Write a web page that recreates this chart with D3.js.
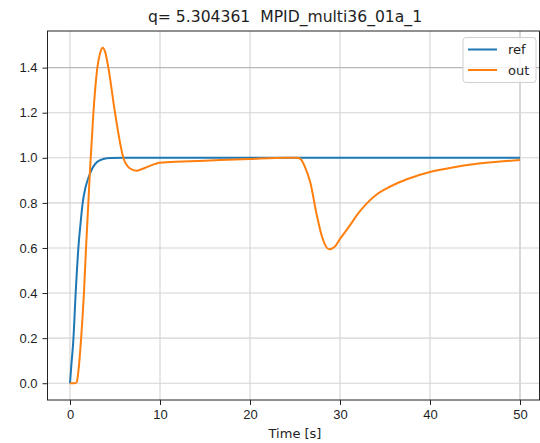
<!DOCTYPE html>
<html>
<head>
<meta charset="utf-8">
<script src="https://cdn.jsdelivr.net/npm/d3@7"></script>
<style>
  body { margin: 0; background: #fff; }
  svg { display: block; font-family: "DejaVu Sans", sans-serif; }
  .tick text { font-size: 13px; fill: #1e1e1e; }
</style>
</head>
<body>
<svg id="chart" width="540" height="443"></svg>
<script>
// ---- data ----
var titleText = "q= 5.304361  MPID_multi36_01a_1";
var xLabel = "Time [s]";
var xTicks = [0, 10, 20, 30, 40, 50];
var yTicks = [0.0, 0.2, 0.4, 0.6, 0.8, 1.0, 1.2, 1.4];
var seriesNames = ["ref", "out"];
var seriesColors = ["#1f77b4", "#ff7f0e"];

var refT = [0, 0.15, 0.37, 0.63, 0.93, 1.2, 1.41, 1.7, 2.04, 2.5, 3.0, 3.7, 4.5, 6, 10, 20, 30, 40, 50];
var refY = [0, 0.08, 0.19, 0.40, 0.60, 0.72, 0.80, 0.865, 0.91, 0.955, 0.981, 0.995, 0.999, 1.0, 1.0, 1.0, 1.0, 1.0, 1.0];

var outT = [0, 0.5, 0.75, 0.95, 1.22, 1.55, 1.78, 2.04, 2.2, 2.6, 3.04, 3.35, 3.63, 3.9, 4.26, 5.0, 5.93, 6.6, 7.4, 8.3, 10, 12.5, 15, 20, 24, 25.2, 25.6, 26.1, 26.7, 27.4, 28.0, 28.8, 29.4, 30, 31.1, 32, 32.8, 34, 35, 37.5, 40, 42.5, 45, 47.5, 50];
var outY = [0, 0, 0.005, 0.06, 0.19, 0.40, 0.60, 0.80, 0.93, 1.20, 1.40, 1.465, 1.488, 1.47, 1.40, 1.20, 1.00, 0.955, 0.943, 0.955, 0.978, 0.983, 0.987, 0.995, 1.0, 1.0, 0.995, 0.96, 0.89, 0.75, 0.65, 0.594, 0.605, 0.64, 0.70, 0.752, 0.79, 0.835, 0.86, 0.906, 0.937, 0.957, 0.972, 0.982, 0.99];

// ---- layout ----
var svg = d3.select("#chart");
var plotL = 47.5, plotR = 542.5, plotT = 31, plotB = 400;

var x = d3.scaleLinear().domain([-2.5, 52.5]).range([plotL, plotR]);
var y = d3.scaleLinear().domain([-0.0744, 1.5624]).range([plotB, plotT]);

// grid
var grid = svg.append("g");
grid.selectAll("line.vx").data(xTicks).enter().append("line")
  .attr("x1", d => x(d)).attr("x2", d => x(d))
  .attr("y1", plotT).attr("y2", plotB)
  .attr("stroke", d => d == 50 ? "#b8b8b8" : "#d4d4d4")
  .attr("stroke-width", 1.1);
grid.selectAll("line.hy").data(yTicks).enter().append("line")
  .attr("x1", plotL).attr("x2", plotR)
  .attr("y1", d => y(d)).attr("y2", d => y(d))
  .attr("stroke", d => d == 1.4 ? "#b8b8b8" : "#d4d4d4")
  .attr("stroke-width", 1.1);

// lines
var series = [
  { name: seriesNames[0], color: seriesColors[0], pts: refT.map((t, i) => [t, refY[i]]) },
  { name: seriesNames[1], color: seriesColors[1], pts: outT.map((t, i) => [t, outY[i]]) }
];
var line = d3.line().x(d => x(d[0])).y(d => y(d[1])).curve(d3.curveMonotoneX);

svg.append("g").selectAll("path").data(series).enter().append("path")
  .attr("d", d => line(d.pts))
  .attr("fill", "none")
  .attr("stroke", d => d.color)
  .attr("stroke-width", 2)
  .attr("stroke-linejoin", "round");

// frame
svg.append("rect")
  .attr("x", plotL).attr("y", plotT)
  .attr("width", 539.5 - plotL).attr("height", plotB - plotT)
  .attr("fill", "none").attr("stroke", "#222").attr("stroke-width", 1);

// axes
var xAxis = d3.axisBottom(x).tickValues(xTicks).tickFormat(d3.format("d")).tickSize(5).tickPadding(5);
var yAxis = d3.axisLeft(y).tickValues(yTicks).tickFormat(d3.format(".1f")).tickSize(5).tickPadding(5);

var gx = svg.append("g").attr("transform", "translate(0," + plotB + ")").call(xAxis);
var gy = svg.append("g").attr("transform", "translate(" + plotL + ",0)").call(yAxis);
[gx, gy].forEach(function(g) {
  g.select(".domain").remove();
  g.selectAll(".tick line").attr("stroke", "#222");
});
gx.selectAll(".tick text").attr("dy", "0.75em").attr("y", 9);
gy.selectAll(".tick text").attr("x", -10);

// labels
svg.append("text")
  .attr("x", 285).attr("y", 22)
  .attr("text-anchor", "middle")
  .style("white-space", "pre")
  .attr("font-size", "15.6px").attr("fill", "#1e1e1e")
  .text(titleText);

svg.append("text")
  .attr("x", (plotL + plotR) / 2).attr("y", 438)
  .attr("text-anchor", "middle")
  .attr("font-size", "13px").attr("fill", "#1e1e1e")
  .text(xLabel);

// legend
var legend = svg.append("g").attr("transform", "translate(463,37.5)");
legend.append("rect")
  .attr("width", 73).attr("height", 45).attr("rx", 3)
  .attr("fill", "#fff").attr("fill-opacity", 0.8)
  .attr("stroke", "#d0d0d0").attr("stroke-width", 1);
var items = legend.selectAll("g.item").data(series).enter().append("g")
  .attr("transform", (d, i) => "translate(0," + (12 + i * 20.5) + ")");
items.append("line")
  .attr("x1", 5).attr("x2", 34)
  .attr("stroke", d => d.color).attr("stroke-width", 2);
items.append("text")
  .attr("x", 45).attr("y", 4.5)
  .attr("font-size", "13px").attr("fill", "#1e1e1e")
  .text(d => d.name);
</script>
</body>
</html>
